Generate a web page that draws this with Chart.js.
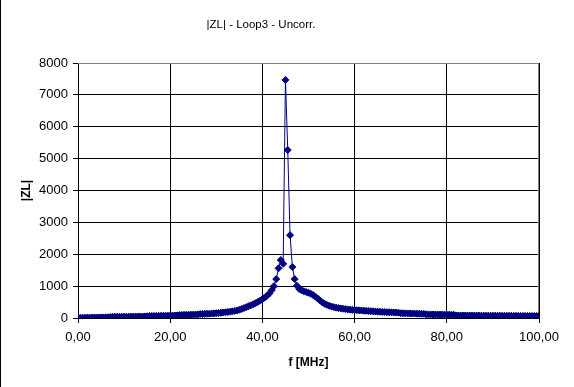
<!DOCTYPE html>
<html>
<head>
<meta charset="utf-8">
<title>|ZL| - Loop3 - Uncorr.</title>
<script src="https://cdn.jsdelivr.net/npm/chart.js@4/dist/chart.umd.min.js"></script>
<style>
  html, body { margin: 0; padding: 0; background: #ffffff; }
  canvas { display: block; }
</style>
</head>
<body>
<canvas id="chart" width="574" height="387"></canvas>
<script>
// frequency sweep [MHz]
const freq = [
  0.0, 0.5, 1.0, 1.5, 2.0, 2.5, 3.0, 3.5, 4.0, 4.5, 5.0, 5.5, 6.0, 6.5, 7.0, 7.5, 8.0, 8.5, 9.0, 9.5,
  10.0, 10.5, 11.0, 11.5, 12.0, 12.5, 13.0, 13.5, 14.0, 14.5, 15.0, 15.5, 16.0, 16.5, 17.0, 17.5, 18.0, 18.5, 19.0, 19.5,
  20.0, 20.5, 21.0, 21.5, 22.0, 22.5, 23.0, 23.5, 24.0, 24.5, 25.0, 25.5, 26.0, 26.5, 27.0, 27.5, 28.0, 28.5, 29.0, 29.5,
  30.0, 30.5, 31.0, 31.5, 32.0, 32.5, 33.0, 33.5, 34.0, 34.5, 35.0, 35.5, 36.0, 36.5, 37.0, 37.5, 38.0, 38.5, 39.0, 39.5,
  40.0, 40.5, 41.0, 41.5, 42.0, 42.5, 43.0, 43.5, 44.0, 44.5, 45.0, 45.5, 46.0, 46.5, 47.0, 47.5, 48.0, 48.5, 49.0, 49.5,
  50.0, 50.5, 51.0, 51.5, 52.0, 52.5, 53.0, 53.5, 54.0, 54.5, 55.0, 55.5, 56.0, 56.5, 57.0, 57.5, 58.0, 58.5, 59.0, 59.5,
  60.0, 60.5, 61.0, 61.5, 62.0, 62.5, 63.0, 63.5, 64.0, 64.5, 65.0, 65.5, 66.0, 66.5, 67.0, 67.5, 68.0, 68.5, 69.0, 69.5,
  70.0, 70.5, 71.0, 71.5, 72.0, 72.5, 73.0, 73.5, 74.0, 74.5, 75.0, 75.5, 76.0, 76.5, 77.0, 77.5, 78.0, 78.5, 79.0, 79.5,
  80.0, 80.5, 81.0, 81.5, 82.0, 82.5, 83.0, 83.5, 84.0, 84.5, 85.0, 85.5, 86.0, 86.5, 87.0, 87.5, 88.0, 88.5, 89.0, 89.5,
  90.0, 90.5, 91.0, 91.5, 92.0, 92.5, 93.0, 93.5, 94.0, 94.5, 95.0, 95.5, 96.0, 96.5, 97.0, 97.5, 98.0, 98.5, 99.0, 99.5,
  100.0
];

// |ZL|
const zl = [
  8, 9, 10, 11, 12, 13, 14, 15, 16, 17, 18, 19, 20, 22, 35, 36, 37, 38, 39, 40,
  41, 42, 43, 44, 45, 46, 47, 48, 49, 50, 52, 62, 64, 65, 66, 67, 69, 70, 71, 73,
  74, 76, 78, 80, 95, 97, 99, 101, 103, 105, 107, 109, 112, 124, 127, 130, 133, 136, 140, 144,
  150, 157, 164, 172, 180, 189, 198, 208, 220, 238, 258, 282, 310, 340, 370, 400, 432, 466, 505, 545,
  590, 640, 695, 765, 870, 1000, 1220, 1560, 1820, 1700, 7470, 5270, 2600, 1600, 1220, 1010, 910, 870, 840, 815,
  790, 760, 720, 670, 610, 550, 490, 445, 410, 385, 360, 340, 325, 310, 300, 290, 280, 270, 262, 256,
  250, 245, 240, 235, 230, 225, 220, 215, 210, 205, 200, 196, 192, 188, 184, 180, 177, 174, 171, 168,
  150, 148, 146, 144, 142, 140, 138, 136, 134, 132, 130, 115, 113, 112, 111, 110, 109, 108, 107, 106,
  105, 104, 103, 102, 80, 79, 79, 78, 78, 77, 77, 76, 76, 75, 75, 74, 74, 73, 73, 72,
  72, 71, 71, 70, 70, 69, 69, 68, 68, 67, 67, 66, 66, 65, 65, 64, 64, 63, 62, 61,
  60
];

const chartTitle = '|ZL| - Loop3 - Uncorr.';
const xTitle = 'f [MHz]';
const yTitle = '|ZL|';

const FONT = "'Liberation Sans', Arial, sans-serif";

// plot frame (grey top/right edge), outer left border and the title
const framePlugin = {
  id: 'frame',
  beforeDatasetsDraw(chart) {
    const { ctx, chartArea: a } = chart;
    ctx.save();
    ctx.strokeStyle = '#808080';
    ctx.lineWidth = 1;
    ctx.beginPath();
    ctx.moveTo(a.left, Math.round(a.top) + 0.5);
    ctx.lineTo(a.right, Math.round(a.top) + 0.5);
    ctx.moveTo(Math.round(a.right) - 0.5, a.top);
    ctx.lineTo(Math.round(a.right) - 0.5, a.bottom);
    ctx.stroke();
    ctx.restore();
  },
  afterDraw(chart) {
    const ctx = chart.ctx;
    ctx.save();
    ctx.fillStyle = '#000000';
    ctx.fillRect(0, 0, 1, chart.height);
    ctx.font = '11.5px ' + FONT;
    ctx.textAlign = 'center';
    ctx.textBaseline = 'middle';
    ctx.fillText(chartTitle, 261, 25);
    ctx.restore();
  }
};

new Chart(document.getElementById('chart'), {
  type: 'line',
  data: {
    datasets: [{
      data: freq.map((f, i) => ({ x: f, y: zl[i] })),
      borderColor: '#000080',
      backgroundColor: '#000080',
      borderWidth: 1,
      pointStyle: 'rectRot',
      pointRadius: 3.5,
      pointBorderWidth: 1,
      pointBackgroundColor: '#000080',
      pointBorderColor: '#000080',
      tension: 0,
      fill: false
    }]
  },
  options: {
    responsive: false,
    devicePixelRatio: 1,
    animation: false,
    layout: { padding: { top: 63, right: 35, bottom: 0, left: 0 } },
    plugins: {
      legend: { display: false },
      tooltip: { enabled: false }
    },
    scales: {
      x: {
        type: 'linear',
        min: 0,
        max: 100,
        afterFit(scale) { scale.height = 69; },
        ticks: {
          stepSize: 20,
          padding: 7,
          color: '#000000',
          font: { family: FONT, size: 13 },
          maxRotation: 0,
          callback: v => v.toFixed(2).replace('.', ',')
        },
        grid: { color: '#000000', lineWidth: 1, tickLength: 5 },
        border: { color: '#000000', width: 1 },
        title: {
          display: true,
          text: xTitle,
          color: '#000000',
          font: { family: FONT, size: 12, weight: 'bold' },
          padding: { top: 0, bottom: 17 }
        }
      },
      y: {
        min: 0,
        max: 8000,
        afterFit(scale) { scale.width = 78; },
        ticks: {
          stepSize: 1000,
          padding: 5,
          color: '#000000',
          font: { family: FONT, size: 13 },
          callback: v => String(v)
        },
        grid: { color: '#000000', lineWidth: 1, tickLength: 5 },
        border: { color: '#000000', width: 1 },
        title: {
          display: true,
          text: yTitle,
          color: '#000000',
          font: { family: FONT, size: 12, weight: 'bold' },
          padding: { top: 19, bottom: 0 }
        }
      }
    }
  },
  plugins: [framePlugin]
});
</script>
</body>
</html>
